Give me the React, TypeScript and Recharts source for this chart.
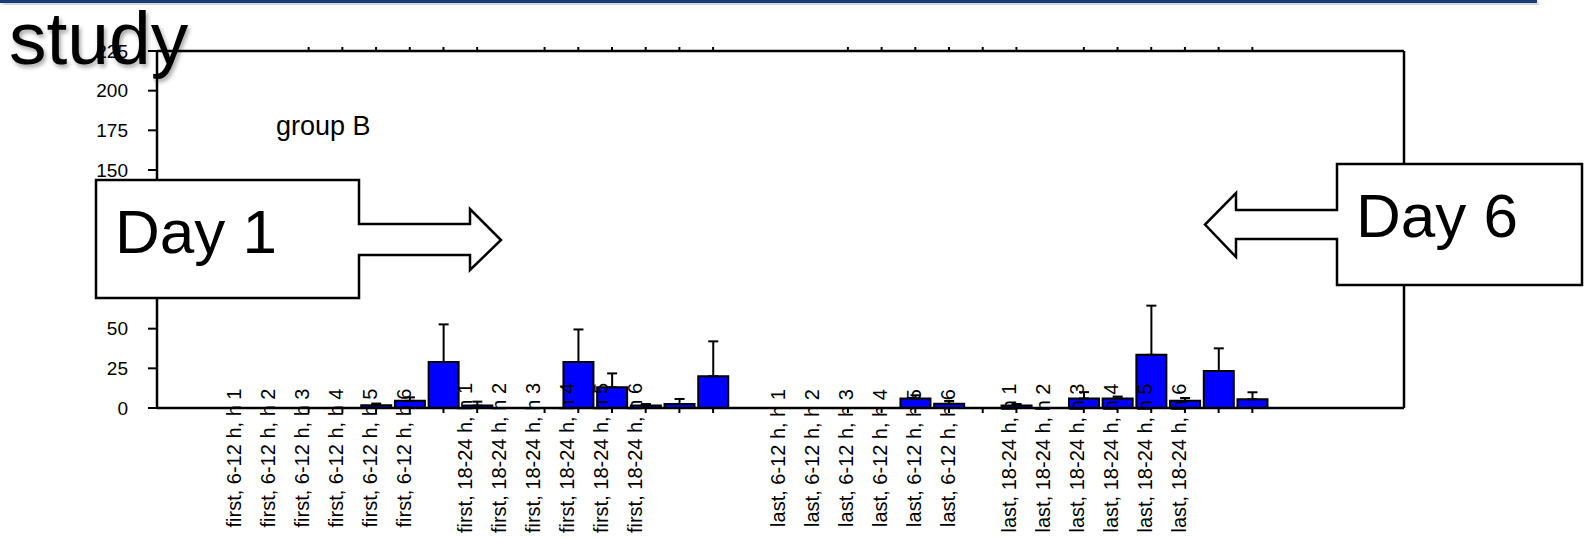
import React from 'react';
import { BarChart, Bar, XAxis, YAxis, ErrorBar } from 'recharts';

// ---- data ----
// 37 category slots along the x axis; null = empty slot (no bar)
const means: (number | null)[] = [
  null, null, null, null,
  0, 0, 1.8, 4.5, 29, 1.5,
  null,
  0, 29, 13, 1.5, 2.5, 20,
  null, null, null,
  0, 0, 6, 2.7, 0, 1.5,
  null,
  6, 6, 33.5, 4.5, 23.3, 5.5,
  null, null, null, null,
];
// upper error (SD) above each bar
const errors: (number | null)[] = [
  null, null, null, null,
  0, 0, 1, 2.2, 23.7, 2.5,
  null,
  0, 20.5, 8.8, 1, 3.2, 22,
  null, null, null,
  0, 0, 2, 1.7, 0, 1,
  null,
  4, 1.2, 31, 1.8, 14.3, 4.4,
  null, null, null, null,
];
const yTicks = [0, 25, 50, 75, 100, 125, 150, 175, 200, 225];
const labelGroups = ['first, 6-12 h', 'first, 18-24 h', 'last, 6-12 h', 'last, 18-24 h'];
const hourLabels = ['h 1', 'h 2', 'h 3', 'h 4', 'h 5', 'h 6'];

// ---- layout constants ----
const FONT = '"Liberation Sans", Arial, Helvetica, sans-serif';
const W = 1589;
const H = 538;
const labelGroupStart = [2.27, 9.13, 18.43, 25.28];
const labelStep = 1.01;

const tickLabels = labelGroups.flatMap((g) => hourLabels.map((h) => `${g}, ${h}`));
const labelTicks = labelGroupStart.flatMap((s) => hourLabels.map((_, i) => s + i * labelStep));

const table = means.map((m, i) => ({
  slot: i,
  mean: m,
  err: errors[i] == null ? null : [0, errors[i] as number],
}));

const BottomTick = (props: any) => {
  const { x, y, payload } = props;
  if (means[payload.value] == null) return <g />;
  return <line x1={x} x2={x} y1={y} y2={y + 5} stroke="#000" strokeWidth={2} />;
};

const TopTick = (props: any) => {
  const { x, y, payload } = props;
  if (means[payload.value] == null) return <g />;
  return <line x1={x} x2={x} y1={y} y2={y - 4} stroke="#000" strokeWidth={2} />;
};

const LabelTick = (props: any) => {
  const { x, y, index } = props;
  const yc = y + 49;
  return (
    <text
      x={x}
      y={yc}
      dy="0.35em"
      transform={`rotate(-90 ${x} ${yc})`}
      textAnchor="middle"
      fontSize={20}
      fontFamily={FONT}
      fill="#000"
    >
      {tickLabels[index]}
    </text>
  );
};

const EmptyTick = () => <g />;

export default function App() {
  return (
    <div style={{ position: 'absolute', left: 0, top: 0, width: W, height: H, background: '#fff' }}>
      <BarChart
        width={W}
        height={H}
        data={table}
        margin={{ top: 50, right: 175, bottom: 0, left: 97 }}
        barSize={30}
      >
        <XAxis
          xAxisId="top"
          orientation="top"
          dataKey="slot"
          type="category"
          height={1}
          interval={0}
          tickSize={0}
          tickMargin={0}
          tickLine={false}
          tick={TopTick}
          axisLine={{ stroke: '#000', strokeWidth: 2.5 }}
        />
        <XAxis
          xAxisId="bar"
          orientation="bottom"
          dataKey="slot"
          type="category"
          height={1}
          interval={0}
          tickSize={0}
          tickMargin={0}
          tickLine={false}
          tick={BottomTick}
          axisLine={{ stroke: '#000', strokeWidth: 2.5 }}
        />
        <XAxis
          xAxisId="lab"
          orientation="bottom"
          dataKey="slot"
          type="number"
          domain={[0, 37]}
          ticks={labelTicks}
          interval={0}
          height={129}
          tickSize={0}
          tickMargin={0}
          tickLine={false}
          axisLine={false}
          tick={LabelTick}
        />
        <YAxis
          yAxisId="left"
          domain={[0, 225]}
          ticks={yTicks}
          interval={0}
          width={60}
          tickSize={9}
          tickMargin={20}
          axisLine={{ stroke: '#000', strokeWidth: 2.5 }}
          tickLine={{ stroke: '#000', strokeWidth: 2 }}
          tick={{ fill: '#000', fontSize: 19, fontFamily: FONT }}
        />
        <YAxis
          yAxisId="right"
          orientation="right"
          domain={[0, 225]}
          ticks={yTicks}
          interval={0}
          width={10}
          tickSize={9}
          tickMargin={0}
          axisLine={{ stroke: '#000', strokeWidth: 2.5 }}
          tickLine={{ stroke: '#000', strokeWidth: 2 }}
          tick={EmptyTick}
        />
        <Bar
          xAxisId="bar"
          yAxisId="left"
          dataKey="mean"
          fill="#0000FF"
          stroke="#000"
          strokeWidth={2}
          isAnimationActive={false}
        >
          <ErrorBar dataKey="err" direction="y" width={5} stroke="#000" strokeWidth={2} isAnimationActive={false} />
        </Bar>
      </BarChart>

      <svg
        width={W}
        height={H}
        style={{ position: 'absolute', left: 0, top: 0, pointerEvents: 'none' }}
      >
        <defs>
          <filter id="shadow" x="-10%" y="-10%" width="130%" height="160%">
            <feDropShadow dx="2" dy="3" stdDeviation="2" floodColor="#000" floodOpacity="0.35" />
          </filter>
        </defs>
        <rect x={0} y={0} width={1537} height={3} fill="#1F3B7A" filter="url(#shadow)" />
        <text x={9} y={64} fontSize={75} fontFamily={FONT} fill="#000" filter="url(#shadow)">
          study
        </text>
        <text x={276} y={135} fontSize={27} fontFamily={FONT} fill="#000">
          group B
        </text>

        <path
          d="M96,180 H359 V224 H470 V209 L501,240 L470,270 V255 H359 V298 H96 Z"
          fill="#fff"
          stroke="#000"
          strokeWidth={2.5}
        />
        <text x={115} y={253} fontSize={62} fontFamily={FONT} fill="#000">
          Day 1
        </text>

        <path
          d="M1337,164 H1582 V285 H1337 V239 H1236 V257 L1205,224.5 L1236,193 V210 H1337 Z"
          fill="#fff"
          stroke="#000"
          strokeWidth={2.5}
        />
        <text x={1356} y={237} fontSize={62} fontFamily={FONT} fill="#000">
          Day 6
        </text>
      </svg>
    </div>
  );
}
